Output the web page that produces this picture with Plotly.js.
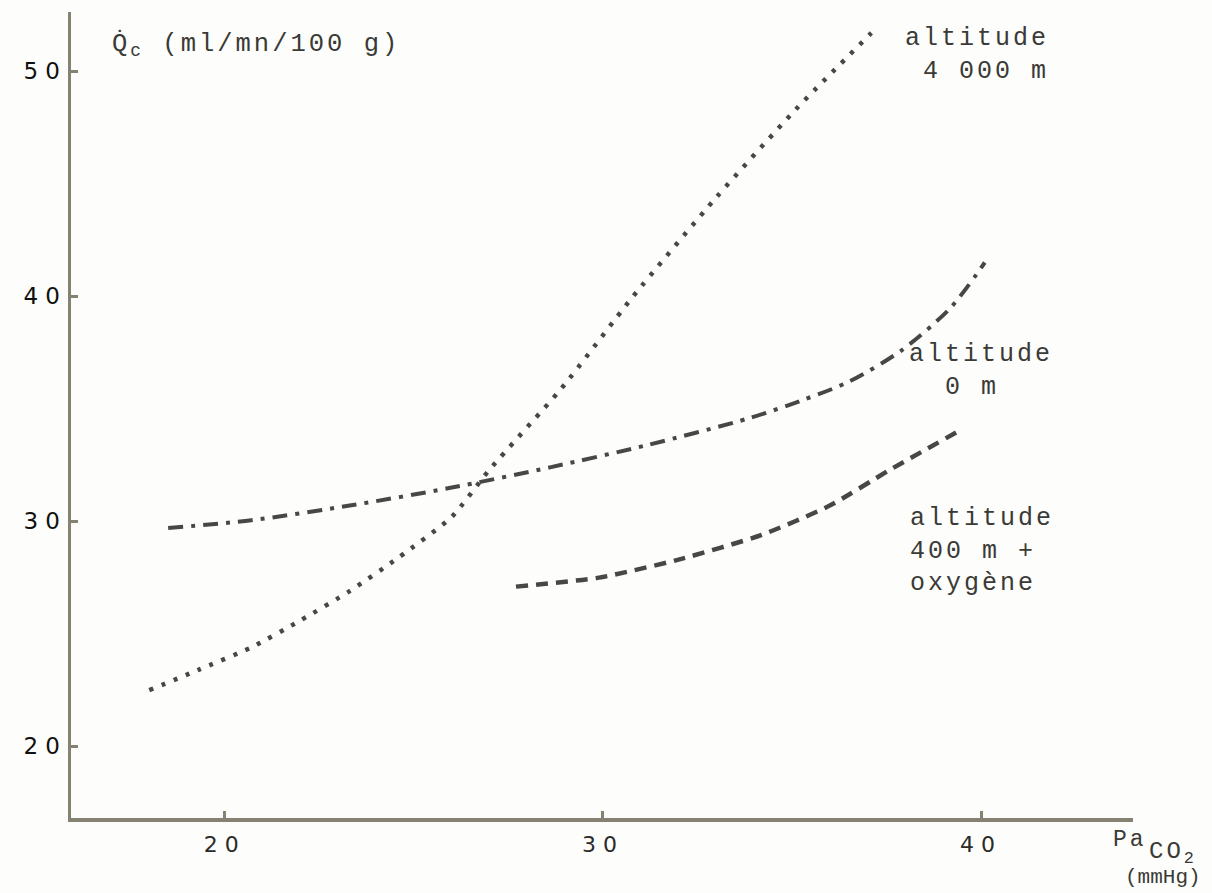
<!DOCTYPE html>
<html>
<head>
<meta charset="utf-8">
<script src="https://cdn.plot.ly/plotly-3.0.1.min.js"></script>
<style>
  html, body { margin: 0; padding: 0; background: #fdfdfb; }
  #chart { width: 1212px; height: 893px; }
  .xtick text, .ytick text { letter-spacing: 7px; }
  .annotation-text { letter-spacing: 3px; }
  .annotation[data-index="6"] .annotation-text { letter-spacing: 0px; }
</style>
</head>
<body>
<div id="chart"></div>
<script>
// PaCO2 (mmHg) / cerebral blood flow (ml/mn/100 g)
const alt4000_x = [18.0, 19.3, 20.7, 22.0, 23.3, 24.6, 26.0, 27.0, 28.9, 30.8, 33.0, 35.1, 37.1];
const alt4000_y = [22.5, 23.4, 24.4, 25.6, 26.9, 28.4, 30.2, 32.3, 35.9, 40.0, 44.4, 48.3, 51.7];

const alt0_x = [18.5, 20.7, 23.3, 26.0, 28.6, 31.2, 33.9, 35.3, 36.5, 37.9, 39.2, 40.1];
const alt0_y = [29.7, 30.05, 30.7, 31.5, 32.4, 33.4, 34.6, 35.4, 36.2, 37.6, 39.5, 41.5];

const alt400o2_x = [27.7, 29.9, 32.0, 34.2, 36.0, 37.6, 39.4];
const alt400o2_y = [27.1, 27.5, 28.3, 29.4, 30.7, 32.3, 34.0];

const xTickVals = [20, 30, 40];
const xTickText = ['20', '30', '40'];
const yTickVals = [20, 30, 40, 50];
const yTickText = ['20', '30', '40', '50'];

const curveLabels = ['altitude<br>\u00a04 000 m', 'altitude<br>\u00a0\u00a00 m', 'altitude<br>400 m +<br>oxygène'];
const yTitle = 'Q\u0307<sub>c</sub> (ml/mn/100 g)';
const xTitleA = 'Pa';
const xTitleB = 'CO<sub>2</sub>';
const xTitleUnit = '(mmHg)';

const lineColor = '#474744';
const axisColor = '#858272';
const mono = '"Liberation Mono", "DejaVu Sans Mono", monospace';

const traces = [
  { x: alt4000_x, y: alt4000_y, mode: 'lines', line: { color: lineColor, width: 4.5, dash: '4px,9px', shape: 'spline', smoothing: 0.6 }, hoverinfo: 'skip' },
  { x: alt0_x, y: alt0_y, mode: 'lines', line: { color: lineColor, width: 4, dash: '15px,8px,4px,8px', shape: 'spline', smoothing: 0.8 }, hoverinfo: 'skip' },
  { x: alt400o2_x, y: alt400o2_y, mode: 'lines', line: { color: lineColor, width: 4.5, dash: '12px,8px', shape: 'spline', smoothing: 0.6 }, hoverinfo: 'skip' }
];

const annFont = { family: mono, size: 25, color: '#3a3a36' };
const layout = {
  width: 1212, height: 893,
  margin: { l: 71, r: 79, t: 12, b: 75 },
  paper_bgcolor: '#fdfdfb', plot_bgcolor: '#fdfdfb',
  showlegend: false,
  xaxis: {
    range: [15.93, 44.02], showgrid: false, zeroline: false,
    showline: true, linewidth: 3.5, linecolor: axisColor,
    tickvals: xTickVals, ticktext: xTickText,
    ticks: 'inside', ticklen: 7, tickwidth: 3, tickcolor: axisColor,
    ticklabelstandoff: 4,
    tickfont: { family: '"DejaVu Sans", sans-serif', size: 22, color: '#2a2a2a' }
  },
  yaxis: {
    range: [16.82, 52.63], showgrid: false, zeroline: false,
    showline: true, linewidth: 3.5, linecolor: axisColor,
    tickvals: yTickVals, ticktext: yTickText,
    ticks: 'inside', ticklen: 7, tickwidth: 3, tickcolor: axisColor,
    ticklabelstandoff: -4,
    tickfont: { family: '"DejaVu Sans", sans-serif', size: 23, color: '#111' }
  },
  annotations: [
    { text: curveLabels[0], x: 37.94, y: 50.7, xref: 'x', yref: 'y', xanchor: 'left', yanchor: 'middle', align: 'left', showarrow: false, font: annFont },
    { text: curveLabels[1], x: 38.04, y: 36.68, xref: 'x', yref: 'y', xanchor: 'left', yanchor: 'middle', align: 'left', showarrow: false, font: annFont },
    { text: curveLabels[2], x: 38.07, y: 28.68, xref: 'x', yref: 'y', xanchor: 'left', yanchor: 'middle', align: 'left', showarrow: false, font: annFont },
    { text: yTitle, x: 16.97, y: 51.16, xref: 'x', yref: 'y', xanchor: 'left', yanchor: 'middle', align: 'left', showarrow: false, font: { family: mono, size: 25.5, color: '#3a3a36' } },
    { text: xTitleA, x: 0.979, y: -0.027, xref: 'paper', yref: 'paper', xanchor: 'left', yanchor: 'middle', showarrow: false, font: { family: mono, size: 23, color: '#3a3a36' } },
    { text: xTitleB, x: 1.013, y: -0.043, xref: 'paper', yref: 'paper', xanchor: 'left', yanchor: 'middle', showarrow: false, font: { family: mono, size: 24, color: '#3a3a36' } },
    { text: xTitleUnit, x: 0.982, y: -0.0744, xref: 'paper', yref: 'paper', xanchor: 'left', yanchor: 'middle', showarrow: false, font: { family: mono, size: 21, color: '#3a3a36' } }
  ]
};

Plotly.newPlot('chart', traces, layout, { displayModeBar: false, staticPlot: true });
</script>
</body>
</html>
